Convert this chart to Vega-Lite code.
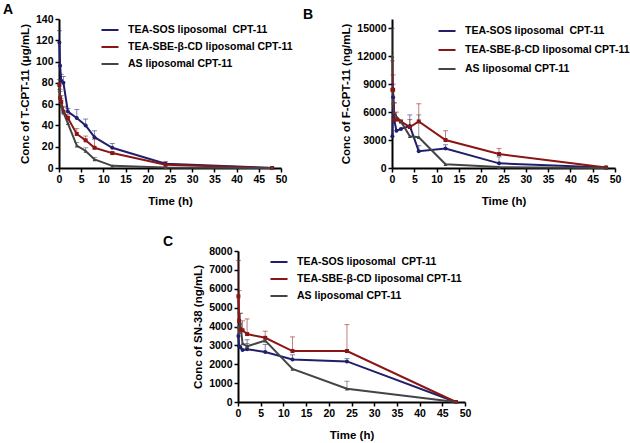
{
  "$schema": "https://vega.github.io/schema/vega-lite/v6.json",
  "padding": 3,
  "config": {
    "font": "Liberation Sans",
    "view": {"stroke": null},
    "axis": {"grid": false, "domainColor": "#000", "domainWidth": 2, "tickColor": "#000", "tickWidth": 1.5, "tickSize": 4, "labelColor": "#000", "titleColor": "#000", "labelFontWeight": "bold", "labelFontSize": 10.5, "titleFontWeight": "bold", "titleFontSize": 11.5, "labelPadding": 2, "labelOverlap": false, "labelFlush": false},
    "axisX": {"titlePadding": 11},
    "axisY": {"titlePadding": 5},
    "legend": {"title": null, "symbolType": "stroke", "symbolStrokeWidth": 2.5, "symbolSize": 290, "labelFontSize": 10.5, "labelFontWeight": "bold", "labelColor": "#000", "labelOffset": 8, "labelLimit": 300},
    "title": {"fontSize": 14, "fontWeight": "bold", "color": "#000", "anchor": "start", "frame": "group"}
  },
  "datasets": {
    "A": [
      {"s": "TEA-SOS liposomal\u00a0 CPT-11", "t": 0.083, "y": 118, "hi": 129},
      {"s": "TEA-SOS liposomal\u00a0 CPT-11", "t": 0.25, "y": 96, "hi": null},
      {"s": "TEA-SOS liposomal\u00a0 CPT-11", "t": 0.5, "y": 82, "hi": 88},
      {"s": "TEA-SOS liposomal\u00a0 CPT-11", "t": 1, "y": 80, "hi": 86},
      {"s": "TEA-SOS liposomal\u00a0 CPT-11", "t": 2, "y": 53, "hi": 56},
      {"s": "TEA-SOS liposomal\u00a0 CPT-11", "t": 4, "y": 47, "hi": 55},
      {"s": "TEA-SOS liposomal\u00a0 CPT-11", "t": 6, "y": 40, "hi": 46},
      {"s": "TEA-SOS liposomal\u00a0 CPT-11", "t": 8, "y": 29, "hi": 35},
      {"s": "TEA-SOS liposomal\u00a0 CPT-11", "t": 12, "y": 19, "hi": 23},
      {"s": "TEA-SOS liposomal\u00a0 CPT-11", "t": 24, "y": 4, "hi": 6},
      {"s": "TEA-SOS liposomal\u00a0 CPT-11", "t": 48, "y": 0, "hi": null},
      {"s": "TEA-SBE-β-CD liposomal CPT-11", "t": 0.083, "y": 78, "hi": 83},
      {"s": "TEA-SBE-β-CD liposomal CPT-11", "t": 0.25, "y": 66, "hi": 72},
      {"s": "TEA-SBE-β-CD liposomal CPT-11", "t": 0.5, "y": 62, "hi": 68},
      {"s": "TEA-SBE-β-CD liposomal CPT-11", "t": 1, "y": 53, "hi": 58},
      {"s": "TEA-SBE-β-CD liposomal CPT-11", "t": 2, "y": 47, "hi": 50},
      {"s": "TEA-SBE-β-CD liposomal CPT-11", "t": 4, "y": 32, "hi": 37},
      {"s": "TEA-SBE-β-CD liposomal CPT-11", "t": 6, "y": 26, "hi": 30},
      {"s": "TEA-SBE-β-CD liposomal CPT-11", "t": 8, "y": 19, "hi": 27},
      {"s": "TEA-SBE-β-CD liposomal CPT-11", "t": 12, "y": 14, "hi": 15},
      {"s": "TEA-SBE-β-CD liposomal CPT-11", "t": 24, "y": 3, "hi": null},
      {"s": "TEA-SBE-β-CD liposomal CPT-11", "t": 48, "y": 0, "hi": null},
      {"s": "AS liposomal CPT-11", "t": 0.083, "y": 75, "hi": 80},
      {"s": "AS liposomal CPT-11", "t": 0.25, "y": 68, "hi": 74},
      {"s": "AS liposomal CPT-11", "t": 0.5, "y": 58, "hi": 65},
      {"s": "AS liposomal CPT-11", "t": 1, "y": 52, "hi": 57},
      {"s": "AS liposomal CPT-11", "t": 2, "y": 42, "hi": 48},
      {"s": "AS liposomal CPT-11", "t": 4, "y": 21, "hi": 24},
      {"s": "AS liposomal CPT-11", "t": 6, "y": 16, "hi": 19},
      {"s": "AS liposomal CPT-11", "t": 8, "y": 8, "hi": 10},
      {"s": "AS liposomal CPT-11", "t": 12, "y": 2, "hi": null},
      {"s": "AS liposomal CPT-11", "t": 24, "y": 0.5, "hi": null},
      {"s": "AS liposomal CPT-11", "t": 48, "y": 0, "hi": null}
    ],
    "B": [
      {"s": "TEA-SOS liposomal\u00a0 CPT-11", "t": 0.083, "y": 3400, "hi": null},
      {"s": "TEA-SOS liposomal\u00a0 CPT-11", "t": 0.25, "y": 7600, "hi": 9000},
      {"s": "TEA-SOS liposomal\u00a0 CPT-11", "t": 0.5, "y": 5200, "hi": 7000},
      {"s": "TEA-SOS liposomal\u00a0 CPT-11", "t": 1, "y": 4000, "hi": null},
      {"s": "TEA-SOS liposomal\u00a0 CPT-11", "t": 2, "y": 4200, "hi": null},
      {"s": "TEA-SOS liposomal\u00a0 CPT-11", "t": 4, "y": 4500, "hi": 5700},
      {"s": "TEA-SOS liposomal\u00a0 CPT-11", "t": 6, "y": 1800, "hi": 2400},
      {"s": "TEA-SOS liposomal\u00a0 CPT-11", "t": 12, "y": 2100, "hi": 2500},
      {"s": "TEA-SOS liposomal\u00a0 CPT-11", "t": 24, "y": 500, "hi": 1200},
      {"s": "TEA-SOS liposomal\u00a0 CPT-11", "t": 48, "y": 50, "hi": null},
      {"s": "TEA-SBE-β-CD liposomal CPT-11", "t": 0.083, "y": 8400, "hi": 11500},
      {"s": "TEA-SBE-β-CD liposomal CPT-11", "t": 0.25, "y": 8400, "hi": 10000},
      {"s": "TEA-SBE-β-CD liposomal CPT-11", "t": 0.5, "y": 5200, "hi": 7000},
      {"s": "TEA-SBE-β-CD liposomal CPT-11", "t": 1, "y": 5200, "hi": 6000},
      {"s": "TEA-SBE-β-CD liposomal CPT-11", "t": 2, "y": 5000, "hi": null},
      {"s": "TEA-SBE-β-CD liposomal CPT-11", "t": 4, "y": 4400, "hi": 5200},
      {"s": "TEA-SBE-β-CD liposomal CPT-11", "t": 6, "y": 5000, "hi": 6900},
      {"s": "TEA-SBE-β-CD liposomal CPT-11", "t": 12, "y": 3000, "hi": 4000},
      {"s": "TEA-SBE-β-CD liposomal CPT-11", "t": 24, "y": 1500, "hi": 2100},
      {"s": "TEA-SBE-β-CD liposomal CPT-11", "t": 48, "y": 50, "hi": null},
      {"s": "AS liposomal CPT-11", "t": 0.083, "y": 12000, "hi": 15000},
      {"s": "AS liposomal CPT-11", "t": 0.25, "y": 7000, "hi": null},
      {"s": "AS liposomal CPT-11", "t": 0.5, "y": 6000, "hi": null},
      {"s": "AS liposomal CPT-11", "t": 1, "y": 5500, "hi": null},
      {"s": "AS liposomal CPT-11", "t": 2, "y": 5000, "hi": null},
      {"s": "AS liposomal CPT-11", "t": 4, "y": 3400, "hi": null},
      {"s": "AS liposomal CPT-11", "t": 6, "y": 3300, "hi": 5700},
      {"s": "AS liposomal CPT-11", "t": 12, "y": 400, "hi": null},
      {"s": "AS liposomal CPT-11", "t": 24, "y": 100, "hi": null},
      {"s": "AS liposomal CPT-11", "t": 48, "y": 0, "hi": null}
    ],
    "C": [
      {"s": "TEA-SOS liposomal\u00a0 CPT-11", "t": 0.083, "y": 3500, "hi": null},
      {"s": "TEA-SOS liposomal\u00a0 CPT-11", "t": 0.25, "y": 2950, "hi": null},
      {"s": "TEA-SOS liposomal\u00a0 CPT-11", "t": 0.5, "y": 2900, "hi": null},
      {"s": "TEA-SOS liposomal\u00a0 CPT-11", "t": 1, "y": 2750, "hi": null},
      {"s": "TEA-SOS liposomal\u00a0 CPT-11", "t": 2, "y": 2800, "hi": 3300},
      {"s": "TEA-SOS liposomal\u00a0 CPT-11", "t": 6, "y": 2650, "hi": 3050},
      {"s": "TEA-SOS liposomal\u00a0 CPT-11", "t": 12, "y": 2250, "hi": 2500},
      {"s": "TEA-SOS liposomal\u00a0 CPT-11", "t": 24, "y": 2150, "hi": 2300},
      {"s": "TEA-SOS liposomal\u00a0 CPT-11", "t": 48, "y": 0, "hi": null},
      {"s": "TEA-SBE-β-CD liposomal CPT-11", "t": 0.083, "y": 5600, "hi": 7500},
      {"s": "TEA-SBE-β-CD liposomal CPT-11", "t": 0.25, "y": 4300, "hi": 5900},
      {"s": "TEA-SBE-β-CD liposomal CPT-11", "t": 0.5, "y": 3850, "hi": 4700},
      {"s": "TEA-SBE-β-CD liposomal CPT-11", "t": 1, "y": 3800, "hi": 4300},
      {"s": "TEA-SBE-β-CD liposomal CPT-11", "t": 2, "y": 3600, "hi": 4400},
      {"s": "TEA-SBE-β-CD liposomal CPT-11", "t": 6, "y": 3400, "hi": 3750},
      {"s": "TEA-SBE-β-CD liposomal CPT-11", "t": 12, "y": 2700, "hi": 3450},
      {"s": "TEA-SBE-β-CD liposomal CPT-11", "t": 24, "y": 2700, "hi": 4100},
      {"s": "TEA-SBE-β-CD liposomal CPT-11", "t": 48, "y": 0, "hi": null},
      {"s": "AS liposomal CPT-11", "t": 0.083, "y": 4000, "hi": null},
      {"s": "AS liposomal CPT-11", "t": 0.25, "y": 3700, "hi": null},
      {"s": "AS liposomal CPT-11", "t": 0.5, "y": 4200, "hi": 4700},
      {"s": "AS liposomal CPT-11", "t": 1, "y": 3100, "hi": null},
      {"s": "AS liposomal CPT-11", "t": 2, "y": 2950, "hi": 3100},
      {"s": "AS liposomal CPT-11", "t": 6, "y": 3250, "hi": null},
      {"s": "AS liposomal CPT-11", "t": 12, "y": 1750, "hi": null},
      {"s": "AS liposomal CPT-11", "t": 24, "y": 700, "hi": 1100},
      {"s": "AS liposomal CPT-11", "t": 48, "y": 0, "hi": null}
    ]
  },
  "vconcat": [
    {
      "hconcat": [
        {
          "width": 222, "height": 149,
          "title": {"text": "A", "dx": -56, "offset": -3},
          "data": {"name": "A"},
          "encoding": {
            "x": {"field": "t", "type": "quantitative", "scale": {"domain": [0, 50]}, "axis": {"values": [0,5,10,15,20,25,30,35,40,45,50], "tickCount": 30, "title": "Time (h)"}}
          },
          "resolve": {"legend": {"color": "independent", "shape": "independent", "strokeWidth": "independent"}},
          "layer": [
            {"mark": {"type": "line"},
             "encoding": {"y": {"field": "y", "type": "quantitative", "scale": {"domain": [0, 140]}, "axis": {"values": [0,20,40,60,80,100,120,140], "tickCount": 30}, "title": "Conc of T-CPT-11 (μg/mL)"},
               "color": {"field": "s", "type": "nominal", "scale": {"domain": ["TEA-SOS liposomal\u00a0 CPT-11", "TEA-SBE-β-CD liposomal CPT-11", "AS liposomal CPT-11"], "range": ["#1f1f6b", "#8b1515", "#444444"]}, "legend": {"orient": "none", "legendX": 41, "legendY": 1, "rowPadding": 1}},
               "strokeWidth": {"field": "s", "type": "nominal", "scale": {"domain": ["TEA-SOS liposomal\u00a0 CPT-11", "TEA-SBE-β-CD liposomal CPT-11", "AS liposomal CPT-11"], "range": [2, 2, 3]}, "legend": null}}},
            {"transform": [{"filter": "datum.hi != null"}], "mark": {"type": "rule", "strokeWidth": 1, "opacity": 0.55},
             "encoding": {"y": {"field": "y", "type": "quantitative", "title": "Conc of T-CPT-11 (μg/mL)"}, "y2": {"field": "hi"},
               "color": {"field": "s", "type": "nominal", "legend": null}}},
            {"transform": [{"filter": "datum.hi != null"}], "mark": {"type": "tick", "orient": "horizontal", "size": 5, "thickness": 1, "opacity": 0.55},
             "encoding": {"y": {"field": "hi", "type": "quantitative", "title": "Conc of T-CPT-11 (μg/mL)"}, "color": {"field": "s", "type": "nominal", "legend": null}}},
            {"mark": {"type": "point", "filled": true, "size": 16, "opacity": 1},
             "encoding": {"y": {"field": "y", "type": "quantitative", "title": "Conc of T-CPT-11 (μg/mL)"}, "color": {"field": "s", "type": "nominal", "legend": null},
               "shape": {"field": "s", "type": "nominal", "scale": {"domain": ["TEA-SOS liposomal\u00a0 CPT-11", "TEA-SBE-β-CD liposomal CPT-11", "AS liposomal CPT-11"], "range": ["circle", "square", "triangle-up"]}, "legend": null}}}
          ]
        },
        {
          "width": 223, "height": 149,
          "title": {"text": "B", "dx": -89, "offset": -3},
          "data": {"name": "B"},
          "encoding": {
            "x": {"field": "t", "type": "quantitative", "scale": {"domain": [0, 50]}, "axis": {"values": [0,5,10,15,20,25,30,35,40,45,50], "tickCount": 30, "title": "Time (h)"}}
          },
          "resolve": {"legend": {"color": "independent", "shape": "independent", "strokeWidth": "independent"}},
          "layer": [
            {"mark": {"type": "line"},
             "encoding": {"y": {"field": "y", "type": "quantitative", "scale": {"domain": [0, 15000]}, "axis": {"values": [0,3000,6000,9000,12000,15000], "tickCount": 30, "format": "d"}, "title": "Conc of F-CPT-11 (ng/mL)"},
               "color": {"field": "s", "type": "nominal", "scale": {"domain": ["TEA-SOS liposomal\u00a0 CPT-11", "TEA-SBE-β-CD liposomal CPT-11", "AS liposomal CPT-11"], "range": ["#1f1f6b", "#8b1515", "#444444"]}, "legend": {"orient": "none", "legendX": 45, "legendY": 2, "rowPadding": 3}},
               "strokeWidth": {"field": "s", "type": "nominal", "scale": {"domain": ["TEA-SOS liposomal\u00a0 CPT-11", "TEA-SBE-β-CD liposomal CPT-11", "AS liposomal CPT-11"], "range": [2, 2, 3]}, "legend": null}}},
            {"transform": [{"filter": "datum.hi != null"}], "mark": {"type": "rule", "strokeWidth": 1, "opacity": 0.55},
             "encoding": {"y": {"field": "y", "type": "quantitative", "title": "Conc of F-CPT-11 (ng/mL)"}, "y2": {"field": "hi"},
               "color": {"field": "s", "type": "nominal", "legend": null}}},
            {"transform": [{"filter": "datum.hi != null"}], "mark": {"type": "tick", "orient": "horizontal", "size": 5, "thickness": 1, "opacity": 0.55},
             "encoding": {"y": {"field": "hi", "type": "quantitative", "title": "Conc of F-CPT-11 (ng/mL)"}, "color": {"field": "s", "type": "nominal", "legend": null}}},
            {"mark": {"type": "point", "filled": true, "size": 16, "opacity": 1},
             "encoding": {"y": {"field": "y", "type": "quantitative", "title": "Conc of F-CPT-11 (ng/mL)"}, "color": {"field": "s", "type": "nominal", "legend": null},
               "shape": {"field": "s", "type": "nominal", "scale": {"domain": ["TEA-SOS liposomal\u00a0 CPT-11", "TEA-SBE-β-CD liposomal CPT-11", "AS liposomal CPT-11"], "range": ["circle", "square", "triangle-up"]}, "legend": null}}}
          ]
        }
      ],
      "spacing": 111,
      "bounds": "flush"
    },
    {
      "hconcat": [
        {"width": 179, "height": 10, "data": {"values": []}, "mark": {"type": "point", "opacity": 0}, "encoding": {}},
        {
          "width": 227, "height": 151,
          "title": {"text": "C", "dx": -75, "offset": -3},
          "data": {"name": "C"},
          "encoding": {
            "x": {"field": "t", "type": "quantitative", "scale": {"domain": [0, 50]}, "axis": {"values": [0,5,10,15,20,25,30,35,40,45,50], "tickCount": 30, "title": "Time (h)"}}
          },
          "resolve": {"legend": {"color": "independent", "shape": "independent", "strokeWidth": "independent"}},
          "layer": [
            {"mark": {"type": "line"},
             "encoding": {"y": {"field": "y", "type": "quantitative", "scale": {"domain": [0, 8000]}, "axis": {"values": [0,1000,2000,3000,4000,5000,6000,7000,8000], "tickCount": 30, "format": "d"}, "title": "Conc of SN-38 (ng/mL)"},
               "color": {"field": "s", "type": "nominal", "scale": {"domain": ["TEA-SOS liposomal\u00a0 CPT-11", "TEA-SBE-β-CD liposomal CPT-11", "AS liposomal CPT-11"], "range": ["#1f1f6b", "#8b1515", "#444444"]}, "legend": {"orient": "none", "legendX": 31, "legendY": 1, "rowPadding": 1}},
               "strokeWidth": {"field": "s", "type": "nominal", "scale": {"domain": ["TEA-SOS liposomal\u00a0 CPT-11", "TEA-SBE-β-CD liposomal CPT-11", "AS liposomal CPT-11"], "range": [2, 2, 3]}, "legend": null}}},
            {"transform": [{"filter": "datum.hi != null"}], "mark": {"type": "rule", "strokeWidth": 1, "opacity": 0.55},
             "encoding": {"y": {"field": "y", "type": "quantitative", "title": "Conc of SN-38 (ng/mL)"}, "y2": {"field": "hi"},
               "color": {"field": "s", "type": "nominal", "legend": null}}},
            {"transform": [{"filter": "datum.hi != null"}], "mark": {"type": "tick", "orient": "horizontal", "size": 5, "thickness": 1, "opacity": 0.55},
             "encoding": {"y": {"field": "hi", "type": "quantitative", "title": "Conc of SN-38 (ng/mL)"}, "color": {"field": "s", "type": "nominal", "legend": null}}},
            {"mark": {"type": "point", "filled": true, "size": 16, "opacity": 1},
             "encoding": {"y": {"field": "y", "type": "quantitative", "title": "Conc of SN-38 (ng/mL)"}, "color": {"field": "s", "type": "nominal", "legend": null},
               "shape": {"field": "s", "type": "nominal", "scale": {"domain": ["TEA-SOS liposomal\u00a0 CPT-11", "TEA-SBE-β-CD liposomal CPT-11", "AS liposomal CPT-11"], "range": ["circle", "square", "triangle-up"]}, "legend": null}}}
          ]
        }
      ],
      "spacing": 0,
      "bounds": "flush"
    }
  ],
  "spacing": 232,
  "bounds": "flush"
}
